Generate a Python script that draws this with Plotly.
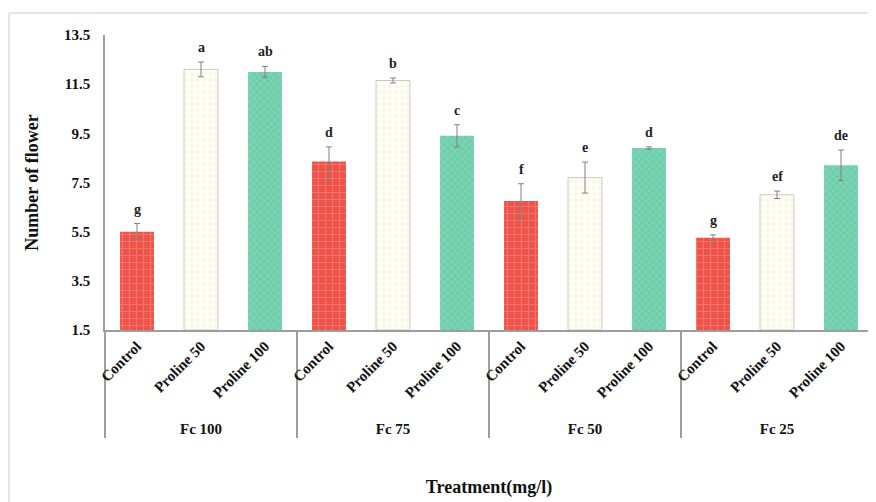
import plotly.graph_objects as go

groups = ["Fc 100", "Fc 75", "Fc 50", "Fc 25"]
treatments = ["Control", "Proline 50", "Proline 100"]

control_vals = [5.5, 8.35, 6.75, 5.25]
control_err = [0.33, 0.6, 0.7, 0.12]
p50_vals = [12.1, 11.65, 7.7, 7.0]
p50_err = [0.3, 0.1, 0.63, 0.15]
p100_vals = [12.0, 9.4, 8.9, 8.2]
p100_err = [0.22, 0.45, 0.05, 0.62]
letters = [["g", "a", "ab"], ["d", "b", "c"], ["f", "e", "d"], ["g", "ef", "de"]]

y_ticks = [1.5, 3.5, 5.5, 7.5, 9.5, 11.5, 13.5]

SERIF = "Liberation Serif"

series = [
    ("Control", control_vals, control_err,
     dict(color="#ef5249", line=dict(width=0),
          pattern=dict(shape="+", fgcolor="#f7958e", size=7, solidity=0.3))),
    ("Proline 50", p50_vals, p50_err,
     dict(color="#fffef8", line=dict(color="#c8c8c8", width=1),
          pattern=dict(shape=".", fgcolor="#f1ebc0", size=6, solidity=0.25))),
    ("Proline 100", p100_vals, p100_err,
     dict(color="#6fcfad", line=dict(width=0),
          pattern=dict(shape="x", fgcolor="#a3e2cb", size=5, solidity=0.3))),
]

fig = go.Figure()
for name, v, e, marker in series:
    fig.add_trace(go.Bar(
        name=name, x=[groups, [name] * len(groups)],
        y=[val - 1.5 for val in v], base=1.5, marker=marker,
        error_y=dict(type="data", array=e, visible=True, color="#808080",
                     thickness=1, width=3),
        showlegend=False, hoverinfo="skip",
    ))

# significance letters, one per bar, in category order
idx = 0
for gi in range(len(groups)):
    for ti, (name, v, e, _) in enumerate(series):
        fig.add_annotation(x=idx, y=v[gi] + e[gi], xref="x", yref="y",
                           text=letters[gi][ti], showarrow=False,
                           yanchor="bottom", yshift=5,
                           font=dict(family=SERIF, size=14, color="#222222", weight="bold"))
        idx += 1

fig.update_layout(
    width=868, height=494,
    margin=dict(l=97, r=3, t=27, b=172),
    paper_bgcolor="white", plot_bgcolor="white",
    barmode="overlay", bargap=0.47,
    font=dict(family=SERIF, color="#111111"),
    xaxis=dict(
        type="multicategory", showline=True, linecolor="#9e9e9e", linewidth=1.5,
        tickangle=-45, tickfont=dict(family=SERIF, size=15, color="#111111", weight="bold"),
        showdividers=True, dividercolor="#9e9e9e", dividerwidth=1.5,
        ticks="", showgrid=False,
        title=dict(text="Treatment(mg/l)", font=dict(family=SERIF, size=18, weight="bold"), standoff=44),
    ),
    yaxis=dict(
        range=[1.5, 13.5], tickvals=y_ticks, ticktext=[str(t) for t in y_ticks],
        showline=True, linecolor="#9e9e9e", linewidth=1.5, showgrid=False, zeroline=False,
        ticks="", ticklabelstandoff=10,
        tickfont=dict(family=SERIF, size=15, color="#111111", weight="bold"),
        title=dict(text="Number of flower", font=dict(family=SERIF, size=18, weight="bold"), standoff=21),
    ),
)

# light outer frame of the picture
fx = (1 - 97) / 768
fy = (322 - 5) / 295
fig.add_shape(type="line", xref="paper", yref="paper",
              x0=fx, x1=1.05, y0=fy, y1=fy, line=dict(color="#dcdcdc", width=1.5))
fig.add_shape(type="line", xref="paper", yref="paper",
              x0=fx, x1=fx, y0=fy, y1=-0.65, line=dict(color="#dcdcdc", width=1.5))

fig.write_html("out.html")
